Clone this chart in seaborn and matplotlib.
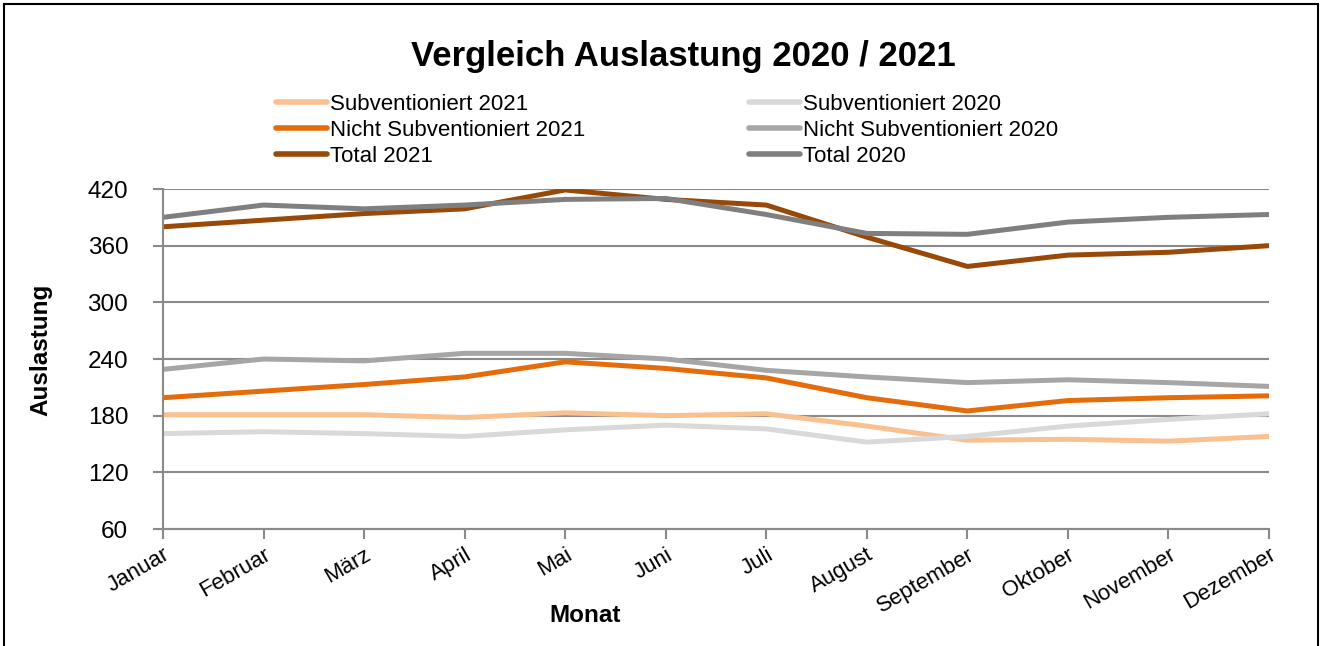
import matplotlib
matplotlib.use("Agg")
import matplotlib.pyplot as plt
import seaborn as sns
import pandas as pd
from matplotlib.patches import Rectangle

months = ["Januar", "Februar", "März", "April", "Mai", "Juni",
          "Juli", "August", "September", "Oktober", "November", "Dezember"]

subv_2021 = [181, 181, 181, 178, 183, 180, 182, 169, 154, 155, 153, 158]
nicht_subv_2021 = [199, 206, 213, 221, 237, 230, 220, 199, 185, 196, 199, 201]
total_2021 = [380, 387, 394, 399, 419, 409, 403, 369, 338, 350, 353, 360]
subv_2020 = [161, 163, 161, 158, 165, 170, 166, 152, 158, 169, 176, 182]
nicht_subv_2020 = [229, 240, 238, 246, 246, 240, 228, 221, 215, 218, 215, 211]
total_2020 = [390, 403, 399, 403, 409, 410, 393, 373, 372, 385, 390, 393]

series = {
    "Subventioniert 2021": subv_2021,
    "Nicht Subventioniert 2021": nicht_subv_2021,
    "Total 2021": total_2021,
    "Subventioniert 2020": subv_2020,
    "Nicht Subventioniert 2020": nicht_subv_2020,
    "Total 2020": total_2020,
}
colors = {
    "Subventioniert 2021": "#FAC090",
    "Nicht Subventioniert 2021": "#E46C0A",
    "Total 2021": "#984807",
    "Subventioniert 2020": "#D9D9D9",
    "Nicht Subventioniert 2020": "#A6A6A6",
    "Total 2020": "#7F7F7F",
}

rows = []
for name, vals in series.items():
    for i, v in enumerate(vals):
        rows.append({"idx": i, "Monat": months[i], "Auslastung": v, "Serie": name})
df = pd.DataFrame(rows)

sns.set_theme(style="white")
plt.rcParams["font.family"] = ["Liberation Sans", "DejaVu Sans"]
plt.rcParams["text.color"] = "black"
plt.rcParams["axes.labelcolor"] = "black"

GRID = "#8A8A8A"

fig = plt.figure(figsize=(13.24, 6.46), dpi=100)
ax = fig.add_axes([163 / 1324, 1 - 529 / 646, (1269 - 163) / 1324, (529 - 189) / 646])

ax.set_yticks(range(60, 421, 60))
ax.yaxis.grid(True, color=GRID, linewidth=1.5)
ax.set_axisbelow(True)

order = list(series.keys())
sns.lineplot(data=df, x="idx", y="Auslastung", hue="Serie", hue_order=order,
             palette=colors, linewidth=3.6, ax=ax, legend=False, sort=False)

ax.set_xlim(0, 11)
ax.set_ylim(60, 420)
ax.set_xticks(range(12))
ax.set_xticklabels(months, rotation=30, ha="right", rotation_mode="anchor", fontsize=16)
ax.tick_params(axis="y", labelsize=17.5, length=7, width=1.5, color=GRID,
               labelcolor="black", direction="out", left=True, pad=18)
ax.tick_params(axis="x", length=7, width=1.5, color=GRID, labelcolor="black",
               direction="out", bottom=True, pad=4)

for s in ["top", "right"]:
    ax.spines[s].set_visible(False)
for s in ["left", "bottom"]:
    ax.spines[s].set_color(GRID)
    ax.spines[s].set_linewidth(1.5)

ax.set_xlabel("Monat", fontsize=17.5, fontweight="bold", va="center")
ax.xaxis.set_label_coords((585 - 163) / 1106, (529 - 615) / 340)
ax.set_ylabel("Auslastung", fontsize=17.5, fontweight="bold", va="center")
ax.yaxis.set_label_coords((41 - 163) / 1106, (529 - 350) / 340)

fig.suptitle("Vergleich Auslastung 2020 / 2021", fontsize=25, fontweight="bold",
             x=683 / 1324, y=1 - 40 / 646, va="top")

handles = [plt.Line2D([], [], color=colors[n], linewidth=4) for n in order]
fig.legend(handles, order, ncol=2, loc="upper left",
           bbox_to_anchor=(276 / 1324, 1 - 94 / 646), frameon=False,
           fontsize=16, handlelength=2.3, handletextpad=0.15,
           labelspacing=0.22, columnspacing=7.35, borderaxespad=0, borderpad=0)

# outer frame
fig.patches.append(Rectangle((4 / 1324, -0.05), (1318 - 4) / 1324, 1.05 - 4 / 646,
                             transform=fig.transFigure, fill=False,
                             edgecolor="black", linewidth=1.5))

fig.savefig("out.png", dpi=100)
